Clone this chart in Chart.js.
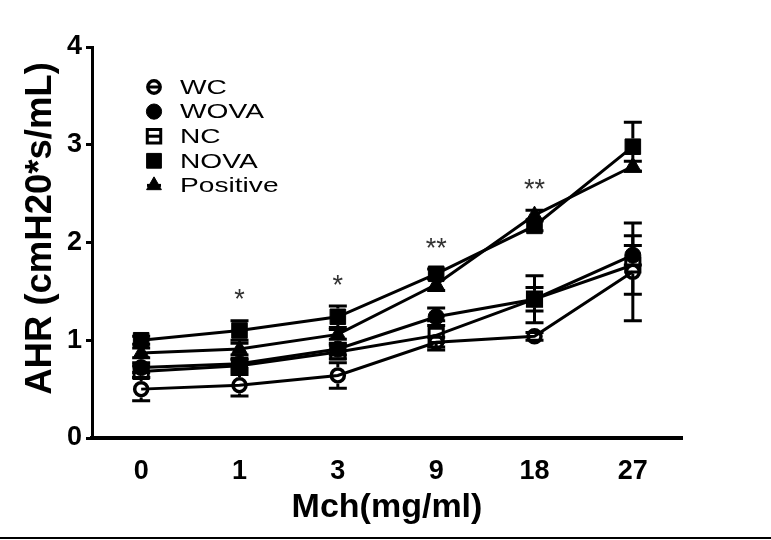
<!DOCTYPE html>
<html><head><meta charset="utf-8">
<script src="https://cdn.jsdelivr.net/npm/chart.js@4/dist/chart.umd.min.js"></script>
<style>
html,body{margin:0;padding:0;background:#fff;}
#wrap{position:relative;width:771px;height:540px;overflow:hidden;background:#fff;}
#rule{position:absolute;left:0;top:537px;width:771px;height:2px;background:#000;}
</style></head><body>
<div id="wrap"><canvas id="c" width="771" height="540"></canvas><div id="rule"></div></div>
<script>
// ---- data ----
const doses = ['0', '1', '3', '9', '18', '27'];
const seriesNames = ['WC', 'WOVA', 'NC', 'NOVA', 'Positive'];
const wcMean   = [0.50, 0.54, 0.64, 0.98, 1.04, 1.70];
const wcErr    = [0.12, 0.11, 0.13, 0.05, 0.04, 0.50];
const wovaMean = [0.72, 0.76, 0.91, 1.24, 1.42, 1.87];
const wovaErr  = [0.05, 0.05, 0.06, 0.09, 0.12, 0.10];
const ncMean   = [0.68, 0.74, 0.88, 1.05, 1.42, 1.77];
const ncErr    = [0.06, 0.06, 0.07, 0.15, 0.24, 0.30];
const novaMean = [1.00, 1.10, 1.24, 1.68, 2.17, 2.98];
const novaErr  = [0.04, 0.10, 0.11, 0.05, 0.05, 0.25];
const posMean  = [0.87, 0.91, 1.06, 1.57, 2.28, 2.78];
const posErr   = [0.05, 0.06, 0.05, 0.06, 0.05, 0.05];
const sigMarks = ['', '*', '*', '**', '**', ''];
const yTickValues = [0, 1, 2, 3, 4];
const xTitle = 'Mch(mg/ml)';
const yTitle = 'AHR (cmH20*s/mL)';

const FONT = "'Liberation Sans', Arial, Helvetica, sans-serif";
const means = [wcMean, wovaMean, ncMean, novaMean, posMean];
const errs = [wcErr, wovaErr, ncErr, novaErr, posErr];
const styles = [
  {pointStyle: 'circle',   radius: 6.5, borderWidth: 3.5, fill: 'rgba(0,0,0,0)'},
  {pointStyle: 'circle',   radius: 8,   borderWidth: 1,   fill: '#000'},
  {pointStyle: 'rect',     radius: 10,  borderWidth: 3,   fill: 'rgba(0,0,0,0)'},
  {pointStyle: 'rect',     radius: 11,  borderWidth: 1,   fill: '#000'},
  {pointStyle: 'triangle', radius: 9,   borderWidth: 1,   fill: '#000'}
];

const datasets = seriesNames.map((name, i) => ({
  label: name,
  data: means[i],
  errors: errs[i],
  borderColor: '#000',
  borderWidth: 3,
  tension: 0,
  fill: false,
  pointStyle: styles[i].pointStyle,
  pointRadius: styles[i].radius,
  pointHoverRadius: styles[i].radius,
  pointBorderWidth: styles[i].borderWidth,
  pointBackgroundColor: styles[i].fill,
  pointBorderColor: '#000'
}));

function halfSize(st) {
  return st.pointStyle === 'rect' ? st.radius * Math.SQRT1_2 + st.borderWidth / 2 : st.radius + st.borderWidth / 2;
}

const errorBarPlugin = {
  id: 'errorBars',
  beforeDatasetsDraw(chart) {
    const ctx = chart.ctx, ys = chart.scales.y;
    ctx.save();
    ctx.strokeStyle = '#000';
    ctx.lineWidth = 3;
    chart.data.datasets.forEach((ds, i) => {
      const meta = chart.getDatasetMeta(i);
      const hs = halfSize(styles[i]);
      ds.data.forEach((v, j) => {
        const e = ds.errors[j];
        const x = meta.data[j].x;
        const yc = ys.getPixelForValue(v);
        const yt = ys.getPixelForValue(v + e);
        const yb = ys.getPixelForValue(v - e);
        ctx.beginPath();
        if (yc - hs > yt) { ctx.moveTo(x, yc - hs); ctx.lineTo(x, yt); }
        if (yc + hs < yb) { ctx.moveTo(x, yc + hs); ctx.lineTo(x, yb); }
        ctx.moveTo(x - 9, yt); ctx.lineTo(x + 9, yt);
        ctx.moveTo(x - 9, yb); ctx.lineTo(x + 9, yb);
        ctx.stroke();
      });
    });
    ctx.restore();
  }
};

const sigPlugin = {
  id: 'sigMarks',
  afterDatasetsDraw(chart) {
    const ctx = chart.ctx, xs = chart.scales.x, ys = chart.scales.y;
    ctx.save();
    ctx.fillStyle = '#333';
    ctx.font = "27px " + FONT;
    ctx.textAlign = 'center';
    ctx.textBaseline = 'alphabetic';
    sigMarks.forEach((m, j) => {
      if (!m) return;
      let top = -Infinity;
      chart.data.datasets.forEach(ds => { top = Math.max(top, ds.data[j] + ds.errors[j]); });
      const py = ys.getPixelForValue(top + 0.28);
      ctx.fillText(m, xs.getPixelForValue(j), py + 15);
    });
    ctx.restore();
  }
};

const legendPlugin = {
  id: 'innerLegend',
  afterDraw(chart) {
    const ctx = chart.ctx, ca = chart.chartArea;
    ctx.save();
    seriesNames.forEach((name, i) => {
      const st = styles[i];
      const cx = ca.left + 62;
      const cy = ca.top + 40 + i * 24.6;
      ctx.strokeStyle = '#000';
      ctx.lineWidth = 3;
      ctx.beginPath();
      ctx.moveTo(cx - 7, cy); ctx.lineTo(cx + 7, cy);
      ctx.stroke();
      ctx.fillStyle = st.fill;
      ctx.lineWidth = st.borderWidth;
      Chart.helpers.drawPoint(ctx, {pointStyle: st.pointStyle, radius: st.radius * 0.95, borderWidth: st.borderWidth, rotation: 0}, cx, cy);
      ctx.save();
      ctx.fillStyle = '#000';
      ctx.font = "21px " + FONT;
      ctx.textAlign = 'left';
      ctx.textBaseline = 'middle';
      ctx.translate(ca.left + 88, cy + 1);
      ctx.scale(1.34, 1);
      ctx.fillText(name, 0, 0);
      ctx.restore();
    });
    ctx.restore();
  }
};

const yTitlePlugin = {
  id: 'yTitle',
  afterDraw(chart) {
    const ctx = chart.ctx, ca = chart.chartArea;
    ctx.save();
    ctx.fillStyle = '#000';
    ctx.font = "bold 36.5px " + FONT;
    ctx.textAlign = 'center';
    ctx.textBaseline = 'middle';
    ctx.translate(ca.left - 51, (ca.top + ca.bottom) / 2 - 14);
    ctx.rotate(-Math.PI / 2);
    ctx.fillText(yTitle, 0, 0);
    ctx.restore();
  }
};

new Chart(document.getElementById('c'), {
  type: 'line',
  data: { labels: doses, datasets: datasets },
  options: {
    responsive: false,
    devicePixelRatio: 1,
    animation: false,
    layout: { padding: { left: 0, right: 89, top: 47, bottom: 0 } },
    plugins: { legend: { display: false }, tooltip: { enabled: false } },
    scales: {
      x: {
        type: 'category',
        offset: true,
        grid: { display: false, drawTicks: false },
        border: { display: true, width: 4, color: '#000' },
        ticks: { color: '#000', font: { family: FONT, size: 27, weight: 'bold' }, padding: 17, maxRotation: 0 },
        title: { display: true, text: xTitle, color: '#000', font: { family: FONT, size: 34, weight: 'bold' }, padding: { top: 0, bottom: 12 } },
        afterFit(scale) { scale.height = 102; }
      },
      y: {
        min: 0, max: 4,
        afterBuildTicks(scale) { scale.ticks = yTickValues.map(v => ({ value: v })); },
        grid: { display: true, drawOnChartArea: false, drawTicks: true, tickLength: 6, tickWidth: 3, tickColor: '#000' },
        border: { display: true, width: 3, color: '#000' },
        ticks: { color: '#000', font: { family: FONT, size: 27, weight: 'bold' }, padding: 4 },
        afterFit(scale) { scale.width = 92; }
      }
    }
  },
  plugins: [errorBarPlugin, sigPlugin, legendPlugin, yTitlePlugin]
});
</script>
</body></html>
